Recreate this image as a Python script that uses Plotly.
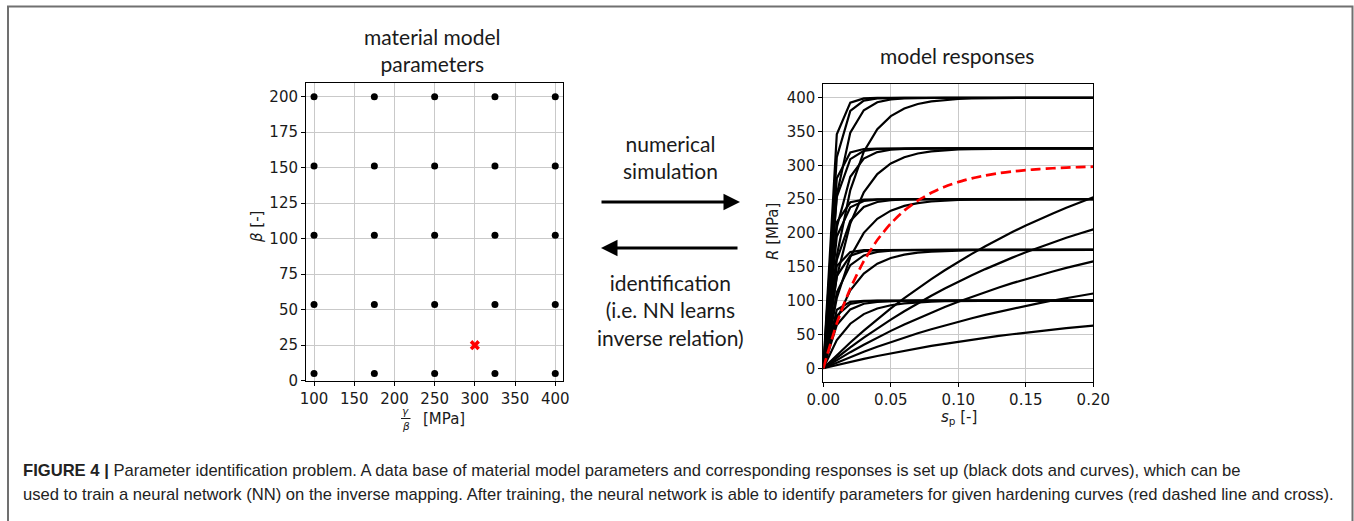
import plotly.graph_objects as go

W, H = 1354, 521

# ---------------- data ----------------
GAMMA_OVER_BETA = [100, 175, 250, 325, 400]          # MPa
BETA = [5, 53.75, 102.5, 151.25, 200]                 # [-]
IDENT_Q = [300]
IDENT_BETA = [25]

P_GRID = [0.00, 0.01, 0.02, 0.03, 0.04, 0.05, 0.06, 0.07, 0.08, 0.09, 0.10,
          0.11, 0.12, 0.13, 0.14, 0.15, 0.16, 0.17, 0.18, 0.19, 0.20]

# responses R [MPa] for beta = 5 (rows: gamma/beta = 100,175,250,325,400)
R_BETA_5 = [
    [0, 4.9, 9.5, 13.9, 18.1, 22.1, 25.9, 29.5, 33.0, 36.2, 39.3, 42.3, 45.1, 47.8, 50.3, 52.8, 55.1, 57.3, 59.3, 61.3, 63.2],
    [0, 8.5, 16.7, 24.4, 31.7, 38.7, 45.4, 51.7, 57.7, 63.4, 68.9, 74.0, 79.0, 83.6, 88.1, 92.3, 96.4, 100.2, 103.9, 107.3, 110.6],
    [0, 12.2, 23.8, 34.8, 45.3, 55.3, 64.8, 73.8, 82.4, 90.6, 98.4, 105.8, 112.8, 119.5, 125.9, 131.9, 137.7, 143.1, 148.4, 153.3, 158.0],
    [0, 15.9, 30.9, 45.3, 58.9, 71.9, 84.2, 96.0, 107.1, 117.8, 127.9, 137.5, 146.6, 155.3, 163.6, 171.5, 179.0, 186.1, 192.9, 199.3, 205.4],
    [0, 19.5, 38.1, 55.7, 72.5, 88.5, 103.7, 118.1, 131.9, 144.9, 157.4, 169.2, 180.5, 191.2, 201.4, 211.1, 220.3, 229.0, 237.4, 245.3, 252.8],
]
R_BETA_54 = [
    [0, 41.6, 65.9, 80.1, 88.4, 93.2, 96.0, 97.7, 98.6, 99.2, 99.5, 99.7, 99.8, 99.9, 99.9, 100.0, 100.0, 100.0, 100.0, 100.0, 100.0],
    [0, 72.8, 115.3, 140.1, 154.6, 163.1, 168.0, 170.9, 172.6, 173.6, 174.2, 174.5, 174.7, 174.8, 174.9, 174.9, 175.0, 175.0, 175.0, 175.0, 175.0],
    [0, 103.9, 164.7, 200.2, 220.9, 233.0, 240.1, 244.2, 246.6, 248.0, 248.8, 249.3, 249.6, 249.8, 249.9, 249.9, 250.0, 250.0, 250.0, 250.0, 250.0],
    [0, 135.1, 214.1, 260.2, 287.1, 302.9, 312.1, 317.5, 320.6, 322.4, 323.5, 324.1, 324.5, 324.7, 324.8, 324.9, 324.9, 325.0, 325.0, 325.0, 325.0],
    [0, 166.3, 263.5, 320.2, 353.4, 372.8, 384.1, 390.7, 394.6, 396.8, 398.1, 398.9, 399.4, 399.6, 399.8, 399.9, 399.9, 400.0, 400.0, 400.0, 400.0],
]
R_BETA_103 = [
    [0, 64.1, 87.1, 95.4, 98.3, 99.4, 99.8, 99.9, 100.0, 100.0, 100.0, 100.0, 100.0, 100.0, 100.0, 100.0, 100.0, 100.0, 100.0, 100.0, 100.0],
    [0, 112.2, 152.5, 166.9, 172.1, 174.0, 174.6, 174.9, 175.0, 175.0, 175.0, 175.0, 175.0, 175.0, 175.0, 175.0, 175.0, 175.0, 175.0, 175.0, 175.0],
    [0, 160.3, 217.8, 238.5, 245.9, 248.5, 249.5, 249.8, 249.9, 250.0, 250.0, 250.0, 250.0, 250.0, 250.0, 250.0, 250.0, 250.0, 250.0, 250.0, 250.0],
    [0, 208.4, 283.2, 310.0, 319.6, 323.1, 324.3, 324.8, 324.9, 325.0, 325.0, 325.0, 325.0, 325.0, 325.0, 325.0, 325.0, 325.0, 325.0, 325.0, 325.0],
    [0, 256.5, 348.5, 381.5, 393.4, 397.6, 399.1, 399.7, 399.9, 400.0, 400.0, 400.0, 400.0, 400.0, 400.0, 400.0, 400.0, 400.0, 400.0, 400.0, 400.0],
]
R_BETA_151 = [
    [0, 78.0, 95.1, 98.9, 99.8, 99.9, 100.0, 100.0, 100.0, 100.0, 100.0, 100.0, 100.0, 100.0, 100.0, 100.0, 100.0, 100.0, 100.0, 100.0, 100.0],
    [0, 136.4, 166.5, 173.1, 174.6, 174.9, 175.0, 175.0, 175.0, 175.0, 175.0, 175.0, 175.0, 175.0, 175.0, 175.0, 175.0, 175.0, 175.0, 175.0, 175.0],
    [0, 194.9, 237.9, 247.3, 249.4, 249.9, 250.0, 250.0, 250.0, 250.0, 250.0, 250.0, 250.0, 250.0, 250.0, 250.0, 250.0, 250.0, 250.0, 250.0, 250.0],
    [0, 253.4, 309.2, 321.5, 324.2, 324.8, 325.0, 325.0, 325.0, 325.0, 325.0, 325.0, 325.0, 325.0, 325.0, 325.0, 325.0, 325.0, 325.0, 325.0, 325.0],
    [0, 311.9, 380.6, 395.7, 399.1, 399.8, 399.9, 400.0, 400.0, 400.0, 400.0, 400.0, 400.0, 400.0, 400.0, 400.0, 400.0, 400.0, 400.0, 400.0, 400.0],
]
R_BETA_200 = [
    [0, 86.5, 98.2, 99.8, 100.0, 100.0, 100.0, 100.0, 100.0, 100.0, 100.0, 100.0, 100.0, 100.0, 100.0, 100.0, 100.0, 100.0, 100.0, 100.0, 100.0],
    [0, 151.3, 171.8, 174.6, 174.9, 175.0, 175.0, 175.0, 175.0, 175.0, 175.0, 175.0, 175.0, 175.0, 175.0, 175.0, 175.0, 175.0, 175.0, 175.0, 175.0],
    [0, 216.2, 245.4, 249.4, 249.9, 250.0, 250.0, 250.0, 250.0, 250.0, 250.0, 250.0, 250.0, 250.0, 250.0, 250.0, 250.0, 250.0, 250.0, 250.0, 250.0],
    [0, 281.0, 319.1, 324.2, 324.9, 325.0, 325.0, 325.0, 325.0, 325.0, 325.0, 325.0, 325.0, 325.0, 325.0, 325.0, 325.0, 325.0, 325.0, 325.0, 325.0],
    [0, 345.9, 392.7, 399.0, 399.9, 400.0, 400.0, 400.0, 400.0, 400.0, 400.0, 400.0, 400.0, 400.0, 400.0, 400.0, 400.0, 400.0, 400.0, 400.0, 400.0],
]
# identified (red dashed) curve
R_IDENTIFIED = [0, 66.4, 118.0, 158.3, 189.6, 214.0, 233.1, 247.9, 259.4, 268.4, 275.4,
                280.8, 285.1, 288.4, 290.9, 292.9, 294.5, 295.7, 296.7, 297.4, 298.0]

LEFT_XTICKS = [100, 150, 200, 250, 300, 350, 400]
LEFT_YTICKS = [0, 25, 50, 75, 100, 125, 150, 175, 200]
RIGHT_XTICKS = [0.00, 0.05, 0.10, 0.15, 0.20]
RIGHT_XTICKTEXT = ["0.00", "0.05", "0.10", "0.15", "0.20"]
RIGHT_YTICKS = [0, 50, 100, 150, 200, 250, 300, 350, 400]

CAPTION_1 = ("<b>FIGURE 4 |</b> Parameter identification problem. A data base of material model parameters "
             "and corresponding responses is set up (black dots and curves), which can be")
CAPTION_2 = ("used to train a neural network (NN) on the inverse mapping. After training, the neural network "
             "is able to identify parameters for given hardening curves (red dashed line and cross).")


def px(x):
    return x / W


def py(y):
    return 1 - y / H


TICK_FONT = dict(family="DejaVu Sans", size=15, color="#1a1a1a")
LABEL_FONT = dict(family="Lato, Open Sans, sans-serif", size=21, color="#1a1a1a")

fig = go.Figure()

# left: parameter grid
gx, gy = [], []
for b in BETA:
    for q in GAMMA_OVER_BETA:
        gx.append(q)
        gy.append(b)
fig.add_trace(go.Scatter(x=gx, y=gy, mode="markers", xaxis="x", yaxis="y",
                         marker=dict(color="black", size=7), showlegend=False))
fig.add_trace(go.Scatter(x=IDENT_Q, y=IDENT_BETA, mode="markers", xaxis="x", yaxis="y",
                         marker=dict(color="red", symbol="x", size=9, line=dict(width=0)),
                         showlegend=False))

# right: model responses
for group in [R_BETA_5, R_BETA_54, R_BETA_103, R_BETA_151, R_BETA_200]:
    for curve in group:
        fig.add_trace(go.Scatter(x=P_GRID, y=curve, mode="lines", xaxis="x2", yaxis="y2",
                                 line=dict(color="black", width=2.2), showlegend=False))
fig.add_trace(go.Scatter(x=P_GRID, y=R_IDENTIFIED, mode="lines", xaxis="x2", yaxis="y2",
                         line=dict(color="red", width=2.7, dash="10px,5px", shape="spline", smoothing=0.6),
                         showlegend=False))

axis_common = dict(showline=True, linecolor="black", linewidth=1, mirror=True,
                   ticks="outside", ticklen=4, tickwidth=1, tickcolor="black",
                   showgrid=True, gridcolor="#c9c9c9", gridwidth=1, zeroline=False,
                   tickfont=TICK_FONT, automargin=False)

fig.update_layout(
    width=W, height=H, margin=dict(l=0, r=0, t=0, b=0),
    paper_bgcolor="white", plot_bgcolor="white",
    xaxis=dict(domain=[px(306), px(563.3)], range=[90, 410], tickvals=LEFT_XTICKS,
               anchor="y", **axis_common),
    yaxis=dict(domain=[py(380.7), py(82.5)], range=[0, 210], tickvals=LEFT_YTICKS,
               anchor="x", **axis_common),
    xaxis2=dict(domain=[px(823.3), px(1093.3)], range=[0, 0.2], tickvals=RIGHT_XTICKS,
                ticktext=RIGHT_XTICKTEXT, anchor="y2", **axis_common),
    yaxis2=dict(domain=[py(381.8), py(84.2)], range=[-20, 420], tickvals=RIGHT_YTICKS,
                anchor="x2", **axis_common),
)

ann = []


def text(x, y, t, font, xanchor="center", yanchor="middle", angle=0, align="center"):
    ann.append(dict(x=px(x), y=py(y), xref="paper", yref="paper", text=t, showarrow=False,
                    font=font, xanchor=xanchor, yanchor=yanchor, textangle=angle, align=align))


text(432, 50, "material model<br>parameters", LABEL_FONT)
text(957, 55, "model responses", LABEL_FONT)
text(670, 157, "numerical<br>simulation", LABEL_FONT)
text(670, 310, "identification<br>(i.e. NN learns<br>inverse relation)", LABEL_FONT)

# axis labels
SMALL = dict(family="DejaVu Sans", size=10.5, color="#1a1a1a")
text(257, 227, "<i>β</i> [-]", TICK_FONT, angle=-90)
text(405.7, 411, "<i>γ</i>", SMALL)
text(405.7, 426, "<i>β</i>", SMALL)
text(444, 419, "[MPa]", TICK_FONT)
text(959, 417, "<i>s</i><sub>p</sub> [-]", TICK_FONT)
text(773, 232, "<i>R</i> [MPa]", TICK_FONT, angle=-90)

# caption
CAP_FONT = dict(family="Liberation Sans, Arial, sans-serif", size=16.6, color="#222222")
text(21, 470, CAPTION_1, CAP_FONT, xanchor="left", align="left")
text(21, 494, CAPTION_2, CAP_FONT, xanchor="left", align="left")

# arrows
ann.append(dict(x=px(740), y=py(202), xref="paper", yref="paper", text="", showarrow=True,
                ax=-140, ay=0, arrowhead=2, arrowsize=1.1, arrowwidth=3, arrowcolor="black"))
ann.append(dict(x=px(601), y=py(248), xref="paper", yref="paper", text="", showarrow=True,
                ax=138, ay=0, arrowhead=2, arrowsize=1.1, arrowwidth=3, arrowcolor="black"))

fig.update_layout(annotations=ann)

fig.update_layout(shapes=[
    dict(type="rect", xref="paper", yref="paper", x0=px(8), x1=px(1352.5), y0=py(540), y1=py(6.5),
         line=dict(color="#707070", width=2), fillcolor="rgba(0,0,0,0)", layer="above"),
    dict(type="line", xref="paper", yref="paper", x0=px(401), x1=px(410.5), y0=py(418.5), y1=py(418.5),
         line=dict(color="#1a1a1a", width=1)),
])

fig.write_html("out.html", config={"displayModeBar": False},
               post_script="document.body.style.margin='0px';document.body.style.overflow='hidden';")
